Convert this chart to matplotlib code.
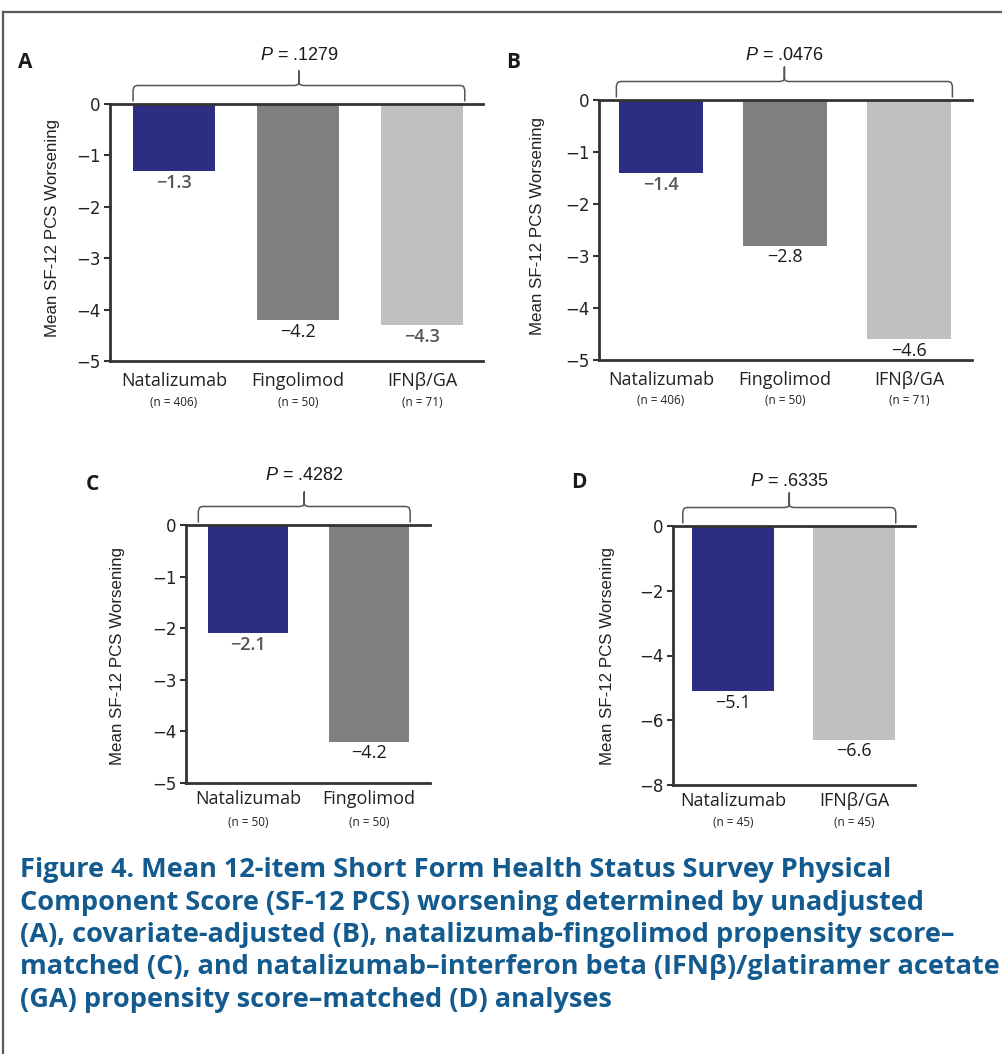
import matplotlib
matplotlib.use('Agg')
import matplotlib.pyplot as plt
from matplotlib.lines import Line2D
from matplotlib.transforms import blended_transform_factory

plt.rcParams['mathtext.fontset'] = 'custom'
plt.rcParams['mathtext.it'] = 'Liberation Sans:italic'
plt.rcParams['mathtext.rm'] = 'Liberation Sans'
plt.rcParams['axes.unicode_minus'] = True

# ---------------- data ----------------
a_categories = ['Natalizumab', 'Fingolimod', 'IFNβ/GA']
a_values = [-1.3, -4.2, -4.3]
a_n = [406, 50, 71]
a_p = '.1279'

b_categories = ['Natalizumab', 'Fingolimod', 'IFNβ/GA']
b_values = [-1.4, -2.8, -4.6]
b_n = [406, 50, 71]
b_p = '.0476'

c_categories = ['Natalizumab', 'Fingolimod']
c_values = [-2.1, -4.2]
c_n = [50, 50]
c_p = '.4282'

d_categories = ['Natalizumab', 'IFNβ/GA']
d_values = [-5.1, -6.6]
d_n = [45, 45]
d_p = '.6335'

ab_yticks = [0, -1, -2, -3, -4, -5]
c_yticks = [0, -1, -2, -3, -4, -5]
d_yticks = [0, -2, -4, -6, -8]

ylabel_text = 'Mean SF-12 PCS Worsening'
caption_lines = [
    'Figure 4. Mean 12-item Short Form Health Status Survey Physical',
    'Component Score (SF-12 PCS) worsening determined by unadjusted',
    '(A), covariate-adjusted (B), natalizumab-fingolimod propensity score\u2013',
    'matched (C), and natalizumab\u2013interferon beta (IFN\u03b2)/glatiramer acetate',
    '(GA) propensity score\u2013matched (D) analyses',
]

# ---------------- style ----------------
colors = {'Natalizumab': '#2b2e83', 'Fingolimod': '#808080', 'IFNβ/GA': '#c0c0c0'}
W, H = 1003, 1054
fig = plt.figure(figsize=(W / 100, H / 100), dpi=100)
fig.patch.set_facecolor('white')

# figure border (top and left)
fig.add_artist(Line2D([3 / W, 1.0], [1 - 12 / H, 1 - 12 / H], color='#5a5a5a', lw=1.6))
fig.add_artist(Line2D([3 / W, 3 / W], [0, 1 - 12 / H], color='#5a5a5a', lw=1.6))

def px_rect(l, r, t, b):
    return [l / W, 1 - b / H, (r - l) / W, (b - t) / H]

panels = [
    dict(letter='A', cats=a_categories, vals=a_values, ns=a_n, p=a_p, yticks=ab_yticks,
         rect=px_rect(110, 483, 104, 361), xlim=(-0.516, 2.492), width=0.66,
         ylab=(-0.153, 0.517), letter_xy=(25, 63), name_pad=8.0, n_off=42,
         bpad=(0.0, 0.015), p_off=49,
         dark=[True, False, True]),
    dict(letter='B', cats=b_categories, vals=b_values, ns=b_n, p=b_p, yticks=ab_yticks,
         rect=px_rect(599, 972, 100, 360), xlim=(-0.5, 2.508), width=0.68,
         ylab=(-0.166, 0.515), letter_xy=(513, 63), name_pad=8.0, n_off=41,
         bpad=(0.02, 0.01), p_off=45,
         dark=[True, False, False]),
    dict(letter='C', cats=c_categories, vals=c_values, ns=c_n, p=c_p, yticks=c_yticks,
         rect=px_rect(186, 430, 525, 783), xlim=(-0.512, 1.504), width=0.66,
         ylab=(-0.279, 0.492), letter_xy=(92, 485), name_pad=5.0, n_off=39,
         bpad=(0.08, 0.01), p_off=50,
         dark=[True, False]),
    dict(letter='D', cats=d_categories, vals=d_values, ns=d_n, p=d_p, yticks=d_yticks,
         rect=px_rect(673, 915, 526, 785), xlim=(-0.496, 1.504), width=0.67,
         ylab=(-0.269, 0.498), letter_xy=(579, 483), name_pad=5.0, n_off=37,
         bpad=(0.08, 0.01), p_off=45,
         dark=[False, False]),
]

spine_c = '#333333'
for pn in panels:
    ax = fig.add_axes(pn['rect'])
    x = list(range(len(pn['cats'])))
    ax.bar(x, pn['vals'], width=pn['width'], color=[colors[c] for c in pn['cats']],
           edgecolor='none', zorder=1)
    ax.set_xlim(*pn['xlim'])
    ax.set_ylim(min(pn['yticks']), 0)
    ax.set_yticks(pn['yticks'])
    ax.set_xticks(x)
    ax.set_xticklabels(pn['cats'], fontfamily='Open Sans', fontsize=13, color='#222222')
    ax.tick_params(axis='x', length=0, pad=pn['name_pad'])
    ax.tick_params(axis='y', direction='out', length=4, width=1.5, color=spine_c,
                   labelsize=12, labelcolor='#222222', pad=3)
    for lab in ax.get_yticklabels():
        lab.set_fontfamily('DejaVu Sans')
    ax.spines['right'].set_visible(False)
    for s in ['left', 'top', 'bottom']:
        ax.spines[s].set_color(spine_c)
        ax.spines[s].set_linewidth(2.0)
    ax.spines['top'].set_zorder(3)
    ax.set_ylabel(ylabel_text, fontfamily='Liberation Sans', fontsize=12.2,
                  color='#222222', va='center')
    ax.yaxis.set_label_coords(*pn['ylab'])

    ax_h = pn['rect'][3] * H
    bt = blended_transform_factory(ax.transData, ax.transAxes)

    # value labels
    for xi, v, dk in zip(x, pn['vals'], pn['dark']):
        ax.annotate(f'\u2212{abs(v):.1f}', (xi, v), xytext=(0, -2), textcoords='offset points',
                    ha='center', va='top', fontfamily='Open Sans', fontsize=13,
                    color='#555555' if dk else '#1a1a1a',
                    fontweight='semibold' if dk else 'normal')

    # n labels
    for xi, n in zip(x, pn['ns']):
        ax.text(xi, -pn['n_off'] / ax_h, f'(n = {n})', transform=bt, ha='center',
                va='center', fontfamily='Open Sans', fontsize=8.5, color='#222222')

    # bracket
    x0 = x[0] - pn['width'] / 2 - pn['bpad'][0]
    x1 = x[-1] + pn['width'] / 2 + pn['bpad'][1]
    xm = (x0 + x1) / 2
    ppu = pn['rect'][2] * W / (pn['xlim'][1] - pn['xlim'][0])  # pixels per data unit
    def fy(px):
        return 1 + px / ax_h
    r = 4 / ppu
    bx = [x0, x0, x0 + r * 0.3, x0 + r, xm - r, xm - r * 0.2, xm, xm, xm, xm + r * 0.2, xm + r,
          x1 - r, x1 - r * 0.3, x1, x1]
    by = [3, 14, 17.5, 18.5, 18.5, 19.5, 22, 33, 22, 19.5, 18.5, 18.5, 17.5, 14, 3]
    ax.plot(bx[:9], [fy(v) for v in by[:9]], transform=bt, color='#555555', lw=1.1,
            clip_on=False, solid_capstyle='round')
    ax.plot(bx[8:], [fy(v) for v in by[8:]], transform=bt, color='#555555', lw=1.1,
            clip_on=False, solid_capstyle='round')
    ax.text(xm, fy(pn['p_off']), '$P$ = ' + pn['p'], transform=bt, ha='center', va='center',
            fontfamily='Liberation Sans', fontsize=13, color='#1a1a1a')

    fig.text(pn['letter_xy'][0] / W, 1 - pn['letter_xy'][1] / H, pn['letter'],
             ha='center', va='center', fontfamily='Open Sans', fontweight='bold',
             fontsize=15, color='#1a1a1a')

# caption
cap_y = [870, 903, 935, 967, 1000]
for line, yy in zip(caption_lines, cap_y):
    fig.text(20 / W, 1 - yy / H, line, ha='left', va='center',
             fontfamily=['Open Sans', 'DejaVu Sans'], fontweight='bold', fontsize=19.5,
             color='#135a8e')

fig.savefig('out.png', dpi=100)
